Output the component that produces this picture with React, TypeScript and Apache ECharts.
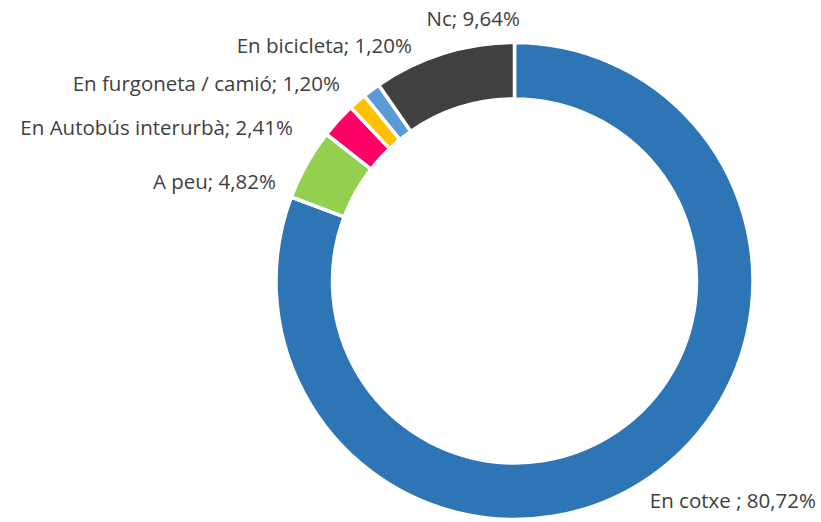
import React, { useEffect, useRef } from "react";
import * as echarts from "echarts";

const categories = ["En cotxe ", "A peu", "En Autobús interurbà", "En furgoneta / camió", "En bicicleta", "Nc"];
const values = [80.72, 4.82, 2.41, 1.2, 1.2, 9.64];
const colors = ["#2E75B6", "#92D050", "#FF0066", "#FFC000", "#5B9BD5", "#404040"];
// label anchor positions [x, y, align]
const labelPos: [number, number, string][] = [
  [816, 500, "right"],
  [276, 181, "right"],
  [293, 127, "right"],
  [340, 83, "right"],
  [412, 45, "right"],
  [520, 18, "right"],
];

export default function App() {
  const ref = useRef<HTMLDivElement>(null);
  useEffect(() => {
    const chart = echarts.init(ref.current!, null, { renderer: "svg" });
    chart.setOption({
      animation: false,
      backgroundColor: "#ffffff",
      series: [
        {
          type: "pie",
          center: [514.5, 281],
          radius: [182, 238.5],
          startAngle: 90,
          clockwise: true,
          itemStyle: { borderColor: "#ffffff", borderWidth: 3.5 },
          label: {
            show: true,
            position: "outside",
            fontFamily: "Open Sans",
            fontSize: 20.5,
            color: "#404040",
            overflow: "none",
            formatter: (p: any) => p.name + "; " + p.value.toFixed(2).replace(".", ",") + "%",
          },
          labelLine: { show: false },
          labelLayout: (p: any) => {
            const lp = labelPos[p.dataIndex];
            return { x: lp[0], y: lp[1], align: lp[2], verticalAlign: "middle", hideOverlap: false };
          },
          data: categories.map((c, i) => ({ name: c, value: values[i], itemStyle: { color: colors[i] } })),
        },
      ],
    });
    return () => chart.dispose();
  }, []);
  return <div ref={ref} style={{ position: "fixed", left: 0, top: 0, width: 821, height: 522 }} />;
}
